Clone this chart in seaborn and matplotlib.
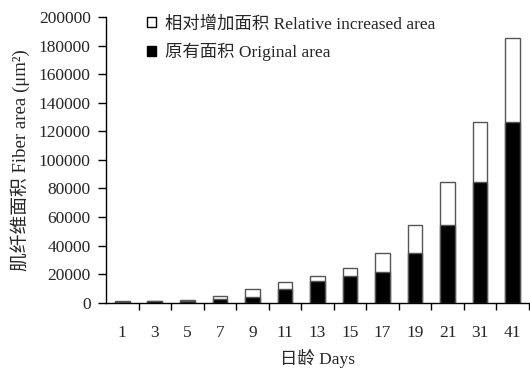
import numpy as np
import pandas as pd
import matplotlib
matplotlib.use("Agg")
import matplotlib.pyplot as plt
from matplotlib.patches import Patch
import seaborn as sns

# Fiber area by age (days)
days = ["1", "3", "5", "7", "9", "11", "13", "15", "17", "19", "21", "31", "41"]
original_area = [800, 1000, 1400, 2400, 3800, 9300, 14900, 18900, 21200, 35100, 54600, 84800, 126800]
total_area = [1000, 1400, 2100, 4500, 9300, 14600, 18900, 24500, 34800, 54100, 84800, 126800, 185400]
y_ticks = list(range(0, 200001, 20000))

legend_labels = ["相对增加面积 Relative increased area", "原有面积 Original area"]
x_title = "日龄 Days"
y_title = "肌纤维面积 Fiber area (μm²)"

df = pd.DataFrame({"day": days, "original": original_area, "total": total_area})

sns.set_theme(style="white")
plt.rcParams["font.family"] = ["Liberation Serif", "Noto Sans CJK SC"]

fs = 12.5
fig = plt.figure(figsize=(5.3, 3.74), dpi=100)
ax = fig.add_axes([0.2, 0.1907, 0.798, 0.7638])

sns.barplot(data=df, x="day", y="total", order=days, color="white",
            edgecolor="#555555", linewidth=1.0, width=0.45, ax=ax, saturation=1)
sns.barplot(data=df, x="day", y="original", order=days, color="black",
            edgecolor="#555555", linewidth=1.0, width=0.45, ax=ax, saturation=1)

ax.set_xlim(-0.5, len(days) - 0.5)
ax.set_ylim(0, 200000)
ax.set_yticks(y_ticks)
ax.set_yticklabels([str(v) for v in y_ticks], fontsize=fs)
ax.set_xticks(range(len(days)))
ax.set_xticklabels(days, fontsize=fs)
ax.set_xticks(np.arange(0.5, len(days), 1.0), minor=True)

ax.tick_params(axis="x", which="major", length=0, pad=16)
ax.tick_params(axis="x", which="minor", direction="out", length=5, width=1, color="black", bottom=True)
ax.tick_params(axis="y", which="major", direction="out", length=6, width=1, color="black", left=True, pad=5)

for side in ["top", "right"]:
    ax.spines[side].set_visible(False)
for side in ["left", "bottom"]:
    ax.spines[side].set_color("black")
    ax.spines[side].set_linewidth(1.0)

ax.set_xlabel(x_title, fontsize=fs, labelpad=6)
ax.set_ylabel(y_title, fontsize=13.5, labelpad=6)

handles = [Patch(facecolor="white", edgecolor="black", linewidth=1.0),
           Patch(facecolor="black", edgecolor="black", linewidth=1.0)]
fig.legend(handles, legend_labels, loc="upper left", bbox_to_anchor=(0.277, 0.958),
           frameon=False, fontsize=fs, handlelength=0.55, handleheight=0.55,
           handletextpad=0.5, labelspacing=0.62, borderpad=0, borderaxespad=0)

fig.savefig("out.png", dpi=100)
